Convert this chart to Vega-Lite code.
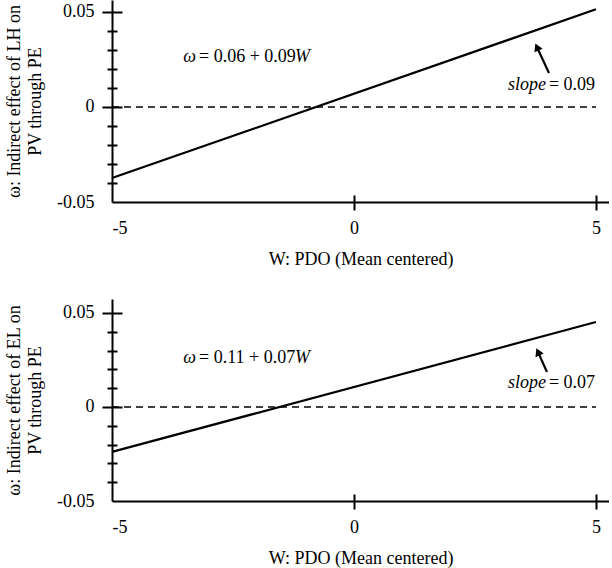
{
  "$schema": "https://vega.github.io/schema/vega-lite/v6.json",
  "background": "white",
  "padding": {"left": 5, "right": 0, "top": 0, "bottom": 5},
  "spacing": 31,
  "config": {
    "font": "Liberation Serif",
    "view": {"stroke": null},
    "axis": {
      "grid": false,
      "domainColor": "black",
      "domainWidth": 2,
      "tickColor": "black",
      "tickWidth": 2,
      "labelFont": "Liberation Serif",
      "labelFontSize": 18,
      "labelColor": "black",
      "titleFont": "Liberation Serif",
      "titleFontSize": 18,
      "titleFontWeight": "normal",
      "titleColor": "black"
    }
  },
  "datasets": {
    "line_lh": [
      {"W": -5, "omega": -0.0374},
      {"W": 5, "omega": 0.0514}
    ],
    "line_el": [
      {"W": -5, "omega": -0.0239},
      {"W": 5, "omega": 0.0452}
    ],
    "notes_lh": [
      {"part": "symbol", "W": -3.264, "omega": 0.0263, "text": "ω"},
      {"part": "equation", "W": -3.202, "omega": 0.0263, "text": "= 0.06 + 0.09"},
      {"part": "variable", "W": -1.219, "omega": 0.0263, "text": "W"},
      {"part": "slope_label", "W": 3.967, "omega": 0.0116, "text": "slope"},
      {"part": "slope_value", "W": 4.029, "omega": 0.0116, "text": "= 0.09"}
    ],
    "notes_el": [
      {"part": "symbol", "W": -3.264, "omega": 0.0261, "text": "ω"},
      {"part": "equation", "W": -3.202, "omega": 0.0261, "text": "= 0.11 + 0.07"},
      {"part": "variable", "W": -1.219, "omega": 0.0261, "text": "W"},
      {"part": "slope_label", "W": 3.967, "omega": 0.0128, "text": "slope"},
      {"part": "slope_value", "W": 4.029, "omega": 0.0128, "text": "= 0.07"}
    ],
    "arrow_lh": [
      {"W": 4.029, "omega": 0.0179, "W_tip": 3.781, "omega_tip": 0.0316}
    ],
    "arrow_el": [
      {"W": 3.988, "omega": 0.0186, "W_tip": 3.802, "omega_tip": 0.0293}
    ],
    "zero": [
      {"W_from": -5, "W_to": 5, "omega": 0}
    ]
  },
  "vconcat": [
    {
      "width": 497,
      "height": 202,
      "resolve": {"axis": {"x": "independent", "y": "independent"}},
      "layer": [
        {
          "data": {"name": "line_lh"},
          "mark": {"type": "line", "color": "black", "strokeWidth": 2.2},
          "encoding": {
            "x": {
              "field": "W", "type": "quantitative",
              "scale": {"domain": [-5, 5.27], "nice": false, "zero": false},
              "axis": {
                "orient": "bottom",
                "values": [-5, 0, 5],
                "tickSize": 8,
                "tickOpacity": {"condition": {"test": "datum.value < -4.9", "value": 0}, "value": 1},
                "labelExpr": "replace(datum.label, '−', '-')",
                "labelPadding": 9,
                "title": "W: PDO (Mean centered)",
                "titlePadding": 13
              }
            },
            "y": {
              "field": "omega", "type": "quantitative",
              "scale": {"domain": [-0.05, 0.0563], "nice": false, "zero": false},
              "axis": {
                "orient": "left",
                "values": [-0.05, -0.04, -0.03, -0.02, -0.01, 0, 0.01, 0.02, 0.03, 0.04, 0.05],
                "labelExpr": "abs(datum.value) < 0.001 ? '0' : datum.value > 0.049 ? '0.05' : datum.value < -0.049 ? '-0.05' : ''",
                "tickSize": {"condition": {"test": "abs(datum.value) < 0.001 || abs(datum.value) > 0.049", "value": 10}, "value": 5},
                "tickOpacity": {"condition": {"test": "datum.value < -0.049", "value": 0}, "value": 1},
                "labelPadding": 8,
                "title": ["ω: Indirect effect of LH on", "PV through PE"],
                "titlePadding": 12,
                "titleLineHeight": 21
              }
            }
          }
        },
        {
          "data": {"name": "zero"},
          "mark": {"type": "rule", "color": "black", "strokeWidth": 1.4, "strokeDash": [7, 5]},
          "encoding": {
            "x": {
              "field": "W_from", "type": "quantitative",
              "axis": {"orient": "top", "offset": -202, "values": [0, 5], "labels": false, "domain": false, "title": null, "tickSize": 7}
            },
            "x2": {"field": "W_to"},
            "y": {
              "field": "omega", "type": "quantitative",
              "axis": {
                "orient": "right", "offset": -497,
                "values": [-0.04, -0.03, -0.02, -0.01, 0, 0.01, 0.02, 0.03, 0.04, 0.05],
                "labels": false, "domain": false, "title": null,
                "tickSize": {"condition": {"test": "abs(datum.value) < 0.001 || abs(datum.value) > 0.049", "value": 10}, "value": 5}
              }
            }
          }
        },
        {
          "data": {"name": "notes_lh"},
          "transform": [{"filter": "datum.part == 'symbol' || datum.part == 'slope_label'"}],
          "mark": {"type": "text", "align": "right", "baseline": "middle", "fontStyle": "italic", "fontSize": 18, "font": "Liberation Serif", "color": "black"},
          "encoding": {
            "x": {"field": "W", "type": "quantitative", "axis": null},
            "y": {"field": "omega", "type": "quantitative", "axis": null},
            "text": {"field": "text"}
          }
        },
        {
          "data": {"name": "notes_lh"},
          "transform": [{"filter": "datum.part == 'equation' || datum.part == 'slope_value'"}],
          "mark": {"type": "text", "align": "left", "baseline": "middle", "fontSize": 18, "font": "Liberation Serif", "color": "black"},
          "encoding": {
            "x": {"field": "W", "type": "quantitative", "axis": null},
            "y": {"field": "omega", "type": "quantitative", "axis": null},
            "text": {"field": "text"}
          }
        },
        {
          "data": {"name": "notes_lh"},
          "transform": [{"filter": "datum.part == 'variable'"}],
          "mark": {"type": "text", "align": "left", "baseline": "middle", "fontStyle": "italic", "fontSize": 18, "font": "Liberation Serif", "color": "black"},
          "encoding": {
            "x": {"field": "W", "type": "quantitative", "axis": null},
            "y": {"field": "omega", "type": "quantitative", "axis": null},
            "text": {"field": "text"}
          }
        },
        {
          "data": {"name": "arrow_lh"},
          "mark": {"type": "rule", "color": "black", "strokeWidth": 2.2},
          "encoding": {
            "x": {"field": "W", "type": "quantitative", "axis": null},
            "y": {"field": "omega", "type": "quantitative", "axis": null},
            "x2": {"field": "W_tip"},
            "y2": {"field": "omega_tip"}
          }
        },
        {
          "data": {"name": "arrow_lh"},
          "mark": {"type": "point", "shape": "triangle-up", "angle": -24, "filled": true, "size": 80, "color": "black", "opacity": 1},
          "encoding": {
            "x": {"field": "W_tip", "type": "quantitative", "axis": null},
            "y": {"field": "omega_tip", "type": "quantitative", "axis": null}
          }
        }
      ]
    },
    {
      "width": 497,
      "height": 202,
      "resolve": {"axis": {"x": "independent", "y": "independent"}},
      "layer": [
        {
          "data": {"name": "line_el"},
          "mark": {"type": "line", "color": "black", "strokeWidth": 2.2},
          "encoding": {
            "x": {
              "field": "W", "type": "quantitative",
              "scale": {"domain": [-5, 5.27], "nice": false, "zero": false},
              "axis": {
                "orient": "bottom",
                "values": [-5, 0, 5],
                "tickSize": 8,
                "tickOpacity": {"condition": {"test": "datum.value < -4.9", "value": 0}, "value": 1},
                "labelExpr": "replace(datum.label, '−', '-')",
                "labelPadding": 9,
                "title": "W: PDO (Mean centered)",
                "titlePadding": 13
              }
            },
            "y": {
              "field": "omega", "type": "quantitative",
              "scale": {"domain": [-0.05, 0.0574], "nice": false, "zero": false},
              "axis": {
                "orient": "left",
                "values": [-0.05, -0.04, -0.03, -0.02, -0.01, 0, 0.01, 0.02, 0.03, 0.04, 0.05],
                "labelExpr": "abs(datum.value) < 0.001 ? '0' : datum.value > 0.049 ? '0.05' : datum.value < -0.049 ? '-0.05' : ''",
                "tickSize": {"condition": {"test": "abs(datum.value) < 0.001 || abs(datum.value) > 0.049", "value": 10}, "value": 5},
                "tickOpacity": {"condition": {"test": "datum.value < -0.049", "value": 0}, "value": 1},
                "labelPadding": 8,
                "title": ["ω: Indirect effect of EL on", "PV through PE"],
                "titlePadding": 12,
                "titleLineHeight": 21
              }
            }
          }
        },
        {
          "data": {"name": "zero"},
          "mark": {"type": "rule", "color": "black", "strokeWidth": 1.4, "strokeDash": [7, 5]},
          "encoding": {
            "x": {
              "field": "W_from", "type": "quantitative",
              "axis": {"orient": "top", "offset": -202, "values": [0, 5], "labels": false, "domain": false, "title": null, "tickSize": 7}
            },
            "x2": {"field": "W_to"},
            "y": {
              "field": "omega", "type": "quantitative",
              "axis": {
                "orient": "right", "offset": -497,
                "values": [-0.04, -0.03, -0.02, -0.01, 0, 0.01, 0.02, 0.03, 0.04, 0.05],
                "labels": false, "domain": false, "title": null,
                "tickSize": {"condition": {"test": "abs(datum.value) < 0.001 || abs(datum.value) > 0.049", "value": 10}, "value": 5}
              }
            }
          }
        },
        {
          "data": {"name": "notes_el"},
          "transform": [{"filter": "datum.part == 'symbol' || datum.part == 'slope_label'"}],
          "mark": {"type": "text", "align": "right", "baseline": "middle", "fontStyle": "italic", "fontSize": 18, "font": "Liberation Serif", "color": "black"},
          "encoding": {
            "x": {"field": "W", "type": "quantitative", "axis": null},
            "y": {"field": "omega", "type": "quantitative", "axis": null},
            "text": {"field": "text"}
          }
        },
        {
          "data": {"name": "notes_el"},
          "transform": [{"filter": "datum.part == 'equation' || datum.part == 'slope_value'"}],
          "mark": {"type": "text", "align": "left", "baseline": "middle", "fontSize": 18, "font": "Liberation Serif", "color": "black"},
          "encoding": {
            "x": {"field": "W", "type": "quantitative", "axis": null},
            "y": {"field": "omega", "type": "quantitative", "axis": null},
            "text": {"field": "text"}
          }
        },
        {
          "data": {"name": "notes_el"},
          "transform": [{"filter": "datum.part == 'variable'"}],
          "mark": {"type": "text", "align": "left", "baseline": "middle", "fontStyle": "italic", "fontSize": 18, "font": "Liberation Serif", "color": "black"},
          "encoding": {
            "x": {"field": "W", "type": "quantitative", "axis": null},
            "y": {"field": "omega", "type": "quantitative", "axis": null},
            "text": {"field": "text"}
          }
        },
        {
          "data": {"name": "arrow_el"},
          "mark": {"type": "rule", "color": "black", "strokeWidth": 2.2},
          "encoding": {
            "x": {"field": "W", "type": "quantitative", "axis": null},
            "y": {"field": "omega", "type": "quantitative", "axis": null},
            "x2": {"field": "W_tip"},
            "y2": {"field": "omega_tip"}
          }
        },
        {
          "data": {"name": "arrow_el"},
          "mark": {"type": "point", "shape": "triangle-up", "angle": -24, "filled": true, "size": 80, "color": "black", "opacity": 1},
          "encoding": {
            "x": {"field": "W_tip", "type": "quantitative", "axis": null},
            "y": {"field": "omega_tip", "type": "quantitative", "axis": null}
          }
        }
      ]
    }
  ]
}
